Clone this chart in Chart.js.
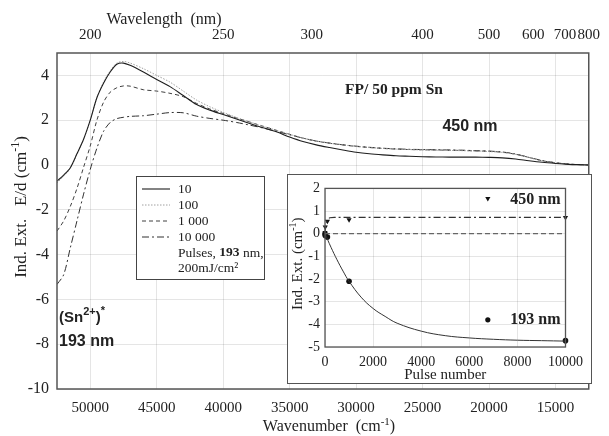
<!DOCTYPE html>
<html><head><meta charset="utf-8">
<script src="https://cdn.jsdelivr.net/npm/chart.js@4/dist/chart.umd.min.js"></script>
<style>
html,body{margin:0;padding:0;background:#fff;}
#wrap{position:relative;width:609px;height:436px;overflow:hidden;}
#main{position:absolute;left:0;top:0;}
#insetBox{position:absolute;left:287px;top:174px;width:305px;height:210px;box-sizing:border-box;border:1.5px solid #555;background:#fff;}
#inset{position:absolute;left:0;top:0;}
</style></head><body>
<div id="wrap">
<canvas id="main" width="609" height="436"></canvas>
<div id="insetBox"><canvas id="inset" width="302" height="207"></canvas></div>
</div>
<script>
// ---------- main spectrum data ----------
const wavenumber = [52500,52000,51500,51000,50500,50000,49500,49000,48500,48000,47500,47000,46000,45000,44000,43000,42000,41000,40000,39000,38000,37000,36000,35000,34000,33000,32000,31000,30000,29000,28000,27000,26000,25000,24000,23000,22000,21000,20000,19000,18000,17000,16000,15000,14000,13000,12500];
const pulses10 = [-0.72,-0.45,-0.12,0.5,1.15,2.0,3.0,3.65,4.15,4.5,4.55,4.45,4.15,3.82,3.5,3.1,2.7,2.45,2.25,2.05,1.85,1.66,1.48,1.25,1.05,0.9,0.78,0.67,0.57,0.5,0.45,0.41,0.39,0.37,0.36,0.35,0.35,0.35,0.34,0.32,0.27,0.19,0.12,0.07,0.03,0.01,0.0];
const pulses100 = [-0.8,-0.5,-0.15,0.48,1.15,2.0,3.0,3.7,4.2,4.55,4.62,4.55,4.3,4.0,3.7,3.3,2.9,2.6,2.35,2.12,1.92,1.73,1.55,1.37,1.2,1.07,0.97,0.9,0.83,0.78,0.74,0.71,0.69,0.67,0.66,0.65,0.64,0.62,0.6,0.56,0.47,0.33,0.19,0.1,0.04,0.01,0.0];
const pulses1000 = [-2.95,-2.5,-1.85,-1.05,-0.1,0.85,2.0,2.8,3.25,3.45,3.53,3.52,3.36,3.3,3.2,3.05,2.75,2.5,2.3,2.1,1.92,1.73,1.55,1.37,1.2,1.07,0.97,0.9,0.83,0.78,0.74,0.71,0.69,0.68,0.67,0.66,0.65,0.63,0.61,0.57,0.48,0.34,0.19,0.1,0.04,0.01,0.0];
const pulses10000 = [-5.33,-4.9,-3.7,-2.5,-1.3,-0.2,0.75,1.5,1.9,2.07,2.13,2.17,2.2,2.27,2.34,2.33,2.18,2.08,2.0,1.9,1.78,1.65,1.5,1.35,1.2,1.07,0.98,0.9,0.84,0.79,0.75,0.72,0.7,0.69,0.68,0.67,0.66,0.64,0.62,0.58,0.49,0.34,0.2,0.1,0.04,0.01,0.0];
const seriesLabels = ["10","100","1 000","10 000"];
const bottomTicks = [50000,45000,40000,35000,30000,25000,20000,15000];
const topWavelengths = [200,250,300,400,500,600,700,800];
const yTicks = [-10,-8,-6,-4,-2,0,2,4];

// ---------- inset data ----------
const pulse193 = [0,10,100,1000,10000];
const ext193 = [0,-0.08,-0.15,-2.1,-4.72];
const pulse450 = [0,10,100,1000,10000];
const ext450 = [0.05,0.3,0.55,0.62,0.72];
const fitPulse193 = [0,250,500,750,1000,1500,2000,2500,3000,4000,5000,6000,7000,8000,9000,10000];
const fitExt193 = [0,-0.6,-1.15,-1.65,-2.1,-2.8,-3.3,-3.65,-3.95,-4.3,-4.5,-4.6,-4.66,-4.7,-4.72,-4.74];
const fitPulse450 = [0,50,100,200,400,10000];
const fitExt450 = [0.05,0.45,0.6,0.7,0.72,0.72];
const keyPulse = [6770];
const keyExt450 = [1.55];
const keyExt193 = [-3.8];
const insetXTicks = [0,2000,4000,6000,8000,10000];
const insetYTicks = [-5,-4,-3,-2,-1,0,1,2];

const SERIF = '"Liberation Serif","Times New Roman",serif';
const SANS = '"Liberation Sans",Arial,sans-serif';

function pts(xs, ys){ return xs.map((x,i)=>({x:x, y:ys[i]})); }

// rich text: parts [{t, size, bold, sup, fam}]
function drawRich(ctx, parts, x, y, align, rot){
  ctx.save();
  ctx.translate(x,y);
  if(rot) ctx.rotate(rot);
  ctx.textBaseline='middle';
  ctx.textAlign='left';
  let w=0;
  parts.forEach(p=>{ ctx.font=(p.bold?'bold ':'')+p.size+'px '+(p.fam||SERIF); w+=ctx.measureText(p.t).width; });
  let cx = align==='center' ? -w/2 : (align==='right' ? -w : 0);
  parts.forEach(p=>{
    ctx.font=(p.bold?'bold ':'')+p.size+'px '+(p.fam||SERIF);
    ctx.fillText(p.t, cx, p.sup ? -p.sup : 0);
    cx += ctx.measureText(p.t).width;
  });
  ctx.restore();
}

const mainPlugin = {
  id:'mainDecor',
  afterDraw(chart){
    const ctx=chart.ctx, a=chart.chartArea;
    ctx.save();
    ctx.strokeStyle='#555'; ctx.lineWidth=1.5;
    ctx.strokeRect(a.left,a.top,a.right-a.left,a.bottom-a.top);
    ctx.fillStyle='#222';
    // axis titles
    drawRich(ctx,[{t:'Wavelength  (nm)',size:16}],164,20,'center');
    drawRich(ctx,[{t:'Wavenumber  (cm',size:16},{t:'-1',size:11,sup:5},{t:')',size:16}],329,427,'center');
    drawRich(ctx,[{t:'Ind. Ext.   E/d (cm',size:17},{t:'-1',size:12,sup:6},{t:')',size:17}],22,207,'center',-Math.PI/2);
    // annotations
    drawRich(ctx,[{t:'FP/ 50 ppm Sn',size:15.5,bold:true}],394,90,'center');
    drawRich(ctx,[{t:'450 nm',size:16,bold:true,fam:SANS}],470,127,'center');
    drawRich(ctx,[{t:'(Sn',size:15,bold:true,fam:SANS},{t:'2+',size:11,bold:true,fam:SANS,sup:6},{t:')',size:15,bold:true,fam:SANS},{t:'*',size:11,bold:true,fam:SANS,sup:7}],59,318,'left');
    drawRich(ctx,[{t:'193 nm',size:16,bold:true,fam:SANS}],59,342,'left');
    // legend box
    const L={x:136,y:176,w:128,h:103};
    ctx.fillStyle='#fff';
    ctx.fillRect(L.x,L.y,L.w,L.h);
    ctx.strokeStyle='#444'; ctx.lineWidth=1;
    ctx.strokeRect(L.x+0.5,L.y+0.5,L.w,L.h);
    chart.data.datasets.forEach((ds,i)=>{
      const yy=L.y+13+i*16;
      ctx.beginPath();
      ctx.setLineDash(ds.borderDash||[]);
      ctx.strokeStyle=ds.borderColor; ctx.lineWidth=ds.borderWidth||1;
      ctx.moveTo(L.x+6,yy); ctx.lineTo(L.x+34,yy); ctx.stroke();
      ctx.setLineDash([]);
      ctx.fillStyle='#222';
      drawRich(ctx,[{t:ds.label,size:13.5}],L.x+42,yy,'left');
    });
    ctx.fillStyle='#222';
    drawRich(ctx,[{t:'Pulses, ',size:13.5},{t:'193',size:13.5,bold:true},{t:' nm,',size:13.5}],L.x+42,L.y+77,'left');
    drawRich(ctx,[{t:'200mJ/cm²',size:13.5}],L.x+42,L.y+92,'left');
    ctx.restore();
  }
};

const mainChart = new Chart(document.getElementById('main'),{
  type:'line',
  data:{datasets:[
    {label:seriesLabels[0],data:pts(wavenumber,pulses10),borderColor:'#1e1e1e',borderWidth:1.1,borderDash:[],pointRadius:0,tension:0.3},
    {label:seriesLabels[1],data:pts(wavenumber,pulses100),borderColor:'#a0a0a0',borderWidth:1,borderDash:[1.5,1.5],pointRadius:0,tension:0.3},
    {label:seriesLabels[2],data:pts(wavenumber,pulses1000),borderColor:'#404040',borderWidth:1,borderDash:[4,3],pointRadius:0,tension:0.3},
    {label:seriesLabels[3],data:pts(wavenumber,pulses10000),borderColor:'#303030',borderWidth:1,borderDash:[7,3,2,3],pointRadius:0,tension:0.3}
  ]},
  options:{
    responsive:false,animation:false,
    layout:{padding:{left:0,right:11,top:0,bottom:0}},
    plugins:{legend:{display:false},tooltip:{enabled:false}},
    scales:{
      x:{type:'linear',position:'bottom',reverse:true,min:12500,max:52500,
        afterBuildTicks:s=>{s.ticks=bottomTicks.map(v=>({value:v}));},
        afterFit:s=>{s.height=47;},
        grid:{color:'rgba(0,0,0,0.1)',drawTicks:false},border:{display:false},
        ticks:{autoSkip:false,maxRotation:0,padding:10,color:'#222',font:{family:SERIF,size:15},callback:v=>String(v)}},
      xTop:{type:'linear',position:'top',reverse:true,min:12500,max:52500,
        afterBuildTicks:s=>{s.ticks=topWavelengths.map(l=>({value:1e7/l}));},
        afterFit:s=>{s.height=53;},
        grid:{display:false,drawTicks:false},border:{display:false},
        ticks:{autoSkip:false,maxRotation:0,padding:9,color:'#222',font:{family:SERIF,size:15},callback:(v,i)=>String(topWavelengths[i])}},
      y:{type:'linear',min:-10,max:5,
        afterBuildTicks:s=>{s.ticks=yTicks.map(v=>({value:v}));},
        afterFit:s=>{s.width=57;},
        grid:{color:'rgba(0,0,0,0.1)',drawTicks:false},border:{display:false},
        ticks:{padding:8,color:'#222',font:{family:SERIF,size:16}}}
    }
  },
  plugins:[mainPlugin]
});

// ---------- inset ----------
const insetPlugin = {
  id:'insetDecor',
  afterDraw(chart){
    const ctx=chart.ctx, a=chart.chartArea, ys=chart.scales.y;
    ctx.save();
    ctx.strokeStyle='#555'; ctx.lineWidth=1.3;
    ctx.strokeRect(a.left,a.top,a.right-a.left,a.bottom-a.top);
    ctx.fillStyle='#222';
    drawRich(ctx,[{t:'Pulse number',size:15}],(a.left+a.right)/2,200,'center');
    drawRich(ctx,[{t:'Ind. Ext. (cm',size:15},{t:'-1',size:10,sup:5},{t:')',size:15}],10,(a.top+a.bottom)/2-4,'center',-Math.PI/2);
    drawRich(ctx,[{t:'450 nm',size:16,bold:true}],a.right-5,ys.getPixelForValue(keyExt450[0])+1,'right');
    drawRich(ctx,[{t:'193 nm',size:16,bold:true}],a.right-5,ys.getPixelForValue(keyExt193[0]),'right');
    ctx.restore();
  }
};

new Chart(document.getElementById('inset'),{
  type:'line',
  data:{datasets:[
    {label:'zero',data:pts([0,10000],[0,0]),borderColor:'#666',borderWidth:1.2,borderDash:[5,3],pointRadius:0},
    {label:'fit450',data:pts(fitPulse450,fitExt450),borderColor:'#333',borderWidth:1.1,borderDash:[7,3,2,3],pointRadius:0,tension:0.3},
    {label:'fit193',data:pts(fitPulse193,fitExt193),borderColor:'#333',borderWidth:1,pointRadius:0,tension:0.4},
    {label:'450 nm',data:pts(pulse450,ext450),showLine:false,pointStyle:'triangle',rotation:180,pointRadius:3,backgroundColor:'#111',borderColor:'#111',borderWidth:0},
    {label:'193 nm',data:pts(pulse193,ext193),showLine:false,pointStyle:'circle',pointRadius:2.8,backgroundColor:'#111',borderColor:'#111',borderWidth:0},
    {label:'key450',data:pts(keyPulse,keyExt450),showLine:false,pointStyle:'triangle',rotation:180,pointRadius:3,backgroundColor:'#111',borderColor:'#111',borderWidth:0},
    {label:'key193',data:pts(keyPulse,keyExt193),showLine:false,pointStyle:'circle',pointRadius:2.6,backgroundColor:'#111',borderColor:'#111',borderWidth:0}
  ]},
  options:{
    responsive:false,animation:false,clip:false,
    layout:{padding:{left:0,right:12,top:8,bottom:0}},
    plugins:{legend:{display:false},tooltip:{enabled:false}},
    scales:{
      x:{type:'linear',min:0,max:10000,
        afterBuildTicks:s=>{s.ticks=insetXTicks.map(v=>({value:v}));},
        afterFit:s=>{s.height=35;},
        grid:{color:'rgba(0,0,0,0.1)',drawTicks:false},border:{display:false},
        ticks:{autoSkip:false,maxRotation:0,padding:7,color:'#222',font:{family:SERIF,size:14},callback:v=>String(v)}},
      y:{type:'linear',min:-5,max:2,
        afterBuildTicks:s=>{s.ticks=insetYTicks.map(v=>({value:v}));},
        afterFit:s=>{s.width=37;},
        grid:{color:'rgba(0,0,0,0.1)',drawTicks:false},border:{display:false},
        ticks:{padding:5,color:'#222',font:{family:SERIF,size:14}}}
    }
  },
  plugins:[insetPlugin]
});
</script>
</body></html>
